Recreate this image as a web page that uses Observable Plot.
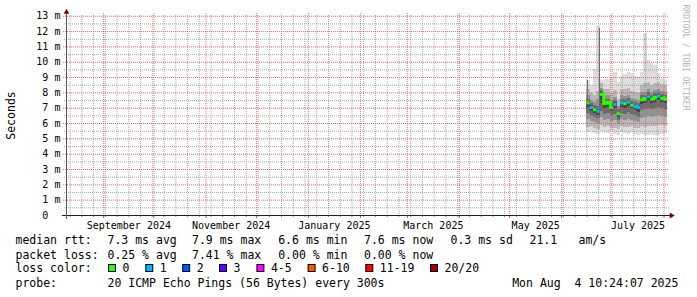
<!DOCTYPE html>
<html><head><meta charset="utf-8">
<script src="https://cdn.jsdelivr.net/npm/d3@7"></script>
<script src="https://cdn.jsdelivr.net/npm/@observablehq/plot@0.6"></script>
<style>html,body{margin:0;padding:0;background:#fff}svg{display:block}</style>
</head><body><div id="chart"></div>
<script>
// ---------- data ----------
const colStart = ["2025-06-16","2025-06-18","2025-06-20","2025-06-22","2025-06-24","2025-06-26","2025-06-28","2025-06-30","2025-07-02","2025-07-04","2025-07-06","2025-07-08","2025-07-10","2025-07-12","2025-07-14","2025-07-16","2025-07-18","2025-07-20","2025-07-22","2025-07-24","2025-07-26","2025-07-28","2025-07-30","2025-08-01"];
const medianMs = [7.35,7.05,6.9,6.8,7.9,7.3,7.35,7.05,7.25,6.65,7.35,7.3,7.4,7.2,7.1,7.05,7.55,7.6,7.75,7.6,7.7,7.8,7.65,7.6];
const lossPings = [0,1,0,1,0,0,0,0,1,0,1,0,1,0,1,1,0,0,1,0,0,1,0,0];
const smoke1Lo = [5.4,5.5,5.35,5.3,5.45,5.4,5.35,5.5,5.3,5.25,5.4,5.35,5.3,5.4,5.3,5.25,5.3,5.2,5.25,5.3,5.2,5.25,5.3,5.35];
const smoke1Hi = [8.8,8.5,9.5,12.3,8.8,8.9,8.9,9.0,9.3,8.7,9.1,9.2,9.3,9.25,9.1,9.0,9.3,11.9,10.1,9.9,9.8,9.25,8.9,8.8];
const smoke3Lo = [5.75,5.8,5.7,5.6,5.9,5.75,5.8,5.75,5.7,5.6,5.8,5.75,5.75,5.8,5.7,5.65,5.8,5.75,5.8,5.8,5.8,5.85,5.85,5.8];
const smoke3Hi = [8.25,7.95,7.8,8.1,8.6,8.2,8.25,7.95,8.15,7.6,8.25,8.2,8.3,8.1,8.0,7.95,8.45,8.6,8.65,8.5,8.6,8.7,8.55,8.5];
const smoke5Lo = [6.25,6.15,6.1,6.0,6.4,6.2,6.25,6.15,6.2,5.95,6.25,6.2,6.25,6.2,6.15,6.05,6.35,6.4,6.45,6.4,6.45,6.5,6.45,6.4];
const smoke5Hi = [7.8,7.5,7.35,7.6,8.3,7.75,7.8,7.5,7.7,7.1,7.8,7.75,7.85,7.65,7.55,7.5,8.0,8.05,8.2,8.05,8.15,8.25,8.1,8.05];
const smoke7Lo = [6.65,6.5,6.4,6.3,6.8,6.6,6.65,6.5,6.6,6.2,6.65,6.6,6.7,6.6,6.5,6.4,6.85,6.9,7.0,6.9,6.95,7.05,6.95,6.9];
const smoke7Hi = [7.6,7.3,7.15,7.1,8.15,7.55,7.6,7.3,7.5,6.9,7.6,7.55,7.65,7.45,7.35,7.3,7.8,7.85,8.0,7.85,7.95,8.05,7.9,7.85];
const smoke9Lo = [7.05,6.8,6.65,6.55,7.3,7.0,7.05,6.8,6.95,6.4,7.05,7.0,7.1,6.95,6.85,6.75,7.25,7.3,7.45,7.3,7.4,7.5,7.35,7.3];
const smoke9Hi = [7.45,7.15,7.0,6.9,8.0,7.4,7.45,7.15,7.35,6.75,7.45,7.4,7.5,7.3,7.2,7.15,7.65,7.7,7.85,7.7,7.8,7.9,7.75,7.7];
const spikeFrom = ["2025-06-16T10:00Z","2025-06-23T13:00Z"];
const spikeTo   = ["2025-06-17T00:00Z","2025-06-24T03:00Z"];
const spikeLo = [7.3, 6.9];
const spikeHi = [8.8, 12.2];

const yTickLabels = ["0","1 m","2 m","3 m","4 m","5 m","6 m","7 m","8 m","9 m","10 m","11 m","12 m","13 m"];
const monthLabelText = ["September 2024","November 2024","January 2025","March 2025","May 2025","July 2025"];
const monthLabelAt = ["2024-09-01","2024-11-01","2025-01-01","2025-03-01","2025-05-01","2025-07-01"];

const lossLabels = ["0","1","2","3","4-5","6-10","11-19","20/20"];
const lossUpper = [0,1,2,3,5,10,19,20];
const lossColors = ["#26ff00","#00b8ff","#0059ff","#5e00ff","#ff00ff","#ff5500","#ff0000","#a00000"];

const rttLabel = "median rtt:";
const rttStats = ["7.3 ms avg","7.9 ms max","6.6 ms min","7.6 ms now","0.3 ms sd","21.1","am/s"];
const lossLabel = "packet loss:";
const lossStats = ["0.25 % avg","7.41 % max","0.00 % min","0.00 % now"];
const colorLabel = "loss color:";
const probeLabel = "probe:";
const probeText = "20 ICMP Echo Pings (56 Bytes) every 300s";
const stampText = "Mon Aug  4 10:24:07 2025";
const watermark = "RRDTOOL / TOBI OETIKER";
const yTitle = "Seconds";

// ---------- layout ----------
const FONT = "DejaVu Sans Mono";
const xStart = new Date("2024-08-09T20:24Z"), xEnd = new Date("2025-08-03T01:30Z");
const yMax = 13.05;
const colorFor = n => lossColors[lossUpper.findIndex(u => n <= u)];

const cols = colStart.map((s, i) => ({
  start: new Date(s + "T00:00Z"),
  end: i < colStart.length - 1 ? new Date(colStart[i + 1] + "T00:00Z") : xEnd,
  median: medianMs[i], loss: lossPings[i]
}));
const bands = [
  {lo: smoke1Lo, hi: smoke1Hi, fill: "#dddddd"},
  {lo: smoke3Lo, hi: smoke3Hi, fill: "#b7b7b7"},
  {lo: smoke5Lo, hi: smoke5Hi, fill: "#919191"},
  {lo: smoke7Lo, hi: smoke7Hi, fill: "#6b6b6b"},
  {lo: smoke9Lo, hi: smoke9Hi, fill: "#454545"}
];
const spikes = spikeFrom.map((s, i) => ({x1: new Date(s), x2: new Date(spikeTo[i]), lo: spikeLo[i], hi: spikeHi[i]}));

const yTicks = yTickLabels.map(s => +s.split(" ")[0]);
const yMajor = yTicks.filter(v => v > 0);
const yMinor = yTicks.slice(0, -1).map(v => v + 0.5);
const weeks = d3.utcMonday.range(xStart, xEnd);
const months = d3.utcMonth.range(xStart, xEnd);
const midMonth = s => { const a = new Date(s + "T00:00Z"); const b = d3.utcMonth.offset(a, 1); return new Date((+a + +b) / 2); };

const gridStyle = {stroke: "#8c8c8c", strokeOpacity: 0.75, strokeDasharray: "1,1"};
const mgridStyle = {stroke: "#f04040", strokeOpacity: 0.75, strokeDasharray: "1,1"};

const arrowUp = {draw(ctx) { ctx.moveTo(0, -6.7); ctx.lineTo(2.8, -1.7); ctx.lineTo(-2.8, -1.7); ctx.closePath(); }};
const arrowRight = {draw(ctx) { ctx.moveTo(7.2, 0); ctx.lineTo(2.2, -3); ctx.lineTo(2.2, 3); ctx.closePath(); }};

const marks = [];
bands.forEach((b, k) => {
  marks.push(Plot.rect(cols, {x1: "start", x2: "end", y1: (d, i) => b.lo[i], y2: (d, i) => b.hi[i], fill: b.fill, inset: 0, shapeRendering: "crispEdges"}));
  if (k === 3) marks.push(Plot.rect(spikes, {x1: "x1", x2: "x2", y1: "lo", y2: "hi", fill: "#6b6b6b", inset: 0, shapeRendering: "crispEdges"}));
});
// grid
marks.push(Plot.ruleX(weeks, {x: d => d, ...gridStyle}));
marks.push(Plot.ruleY(yMinor, {y: d => d, ...gridStyle, insetLeft: -2, insetRight: -2}));
marks.push(Plot.ruleX(months, {x: d => d, ...mgridStyle, insetTop: -2}));
marks.push(Plot.ruleY(yMajor, {y: d => d, ...mgridStyle, insetLeft: -3, insetRight: -2}));
marks.push(Plot.ruleX(weeks, {x: d => d, y1: 0, y2: 0, insetBottom: -2, stroke: "#8c8c8c"}));
marks.push(Plot.ruleX(months, {x: d => d, y1: 0, y2: 0, insetBottom: -3, stroke: "#f04040"}));
// axes
marks.push(Plot.ruleY([0], {y: d => d, stroke: "#202020", insetLeft: -4, insetRight: -4}));
marks.push(Plot.ruleX([xStart], {x: d => d, stroke: "#555", insetTop: -4, insetBottom: -4}));
marks.push(Plot.dot([xStart], {x: d => d, frameAnchor: "top", symbol: arrowUp, fill: "#800000", stroke: "none", r: 3}));
marks.push(Plot.dot([0], {y: d => d, frameAnchor: "right", symbol: arrowRight, fill: "#800000", stroke: "none", r: 3}));
// median
const links = cols.slice(1).map((d, i) => ({x: d.start, y1: cols[i].median, y2: d.median, c: colorFor(d.loss), same: colorFor(cols[i].loss) === colorFor(d.loss)})).filter(d => d.same);
marks.push(Plot.ruleX(links, {x: "x", y1: "y1", y2: "y2", stroke: "c", strokeWidth: 3, strokeLinecap: "square"}));
marks.push(Plot.ruleY(cols, {x1: "start", x2: "end", y: "median", stroke: d => colorFor(d.loss), strokeWidth: 3}));
// text
marks.push(Plot.text(yTicks, {y: d => d, text: (d, i) => yTickLabels[i].split(" ")[0], frameAnchor: "left", dx: -18.1, textAnchor: "end", fontSize: 10, fill: "#000"}));
marks.push(Plot.text(yTicks, {y: d => d, text: (d, i) => yTickLabels[i].split(" ")[1] || "", frameAnchor: "left", dx: -12.1, textAnchor: "start", fontSize: 10, fill: "#000"}));
marks.push(Plot.text(monthLabelAt, {x: d => midMonth(d), text: (d, i) => monthLabelText[i], frameAnchor: "bottom", dy: 13.3, lineAnchor: "bottom", textAnchor: "middle", fontSize: 10, fill: "#000"}));
marks.push(Plot.text([yTitle], {text: d => d, frameAnchor: "left", dx: -54.7, rotate: -90, textAnchor: "middle", fontSize: 11.5, fill: "#000"}));
marks.push(Plot.text([watermark], {text: d => d, frameAnchor: "top-right", dx: 21, dy: 42, rotate: 90, textAnchor: "middle", fontSize: 8, fill: "#b3b3b3"}));

const chart = Plot.plot({
  width: 697, height: 297,
  marginLeft: 66, marginRight: 30, marginTop: 15, marginBottom: 82,
  x: {type: "utc", domain: [xStart, xEnd], axis: null},
  y: {domain: [0, yMax], axis: null},
  color: {type: "identity"},
  style: {fontFamily: FONT, fontSize: "10px", background: "#fff", overflow: "visible"},
  marks
});
document.getElementById("chart").appendChild(chart);

// ---------- legend (below the plot) ----------
const rowY = [244.3, 258.5, 272.4, 286.7];
const labelX = 15.5;
const statX = [107.5, 192, 278.2, 364, 450.5, 529.5, 578.5];
const boxX = [108, 145.3, 182.2, 219, 256.4, 307.6, 365.3, 430];
const stampX = 512.2;
const g = d3.select(chart).append("g").attr("font-family", FONT).attr("font-size", 11.5).attr("fill", "#000").attr("text-anchor", "start");
const put = (x, y, t) => g.append("text").attr("x", x).attr("y", y).attr("text-anchor", "start").style("white-space", "pre").text(t);
put(labelX, rowY[0], rttLabel);
rttStats.forEach((t, i) => put(statX[i], rowY[0], t));
put(labelX, rowY[1], lossLabel);
lossStats.forEach((t, i) => put(statX[i], rowY[1], t));
put(labelX, rowY[2], colorLabel);
lossLabels.forEach((t, i) => {
  g.append("rect").attr("x", boxX[i] + 0.5).attr("y", rowY[2] - 7.9).attr("width", 7).attr("height", 7)
    .attr("fill", lossColors[i]).attr("stroke", "#000").attr("stroke-width", 1);
  put(boxX[i] + 14.5, rowY[2], t);
});
put(labelX, rowY[3], probeLabel);
put(statX[0], rowY[3], probeText);
put(stampX, rowY[3], stampText);
</script>
</body></html>
